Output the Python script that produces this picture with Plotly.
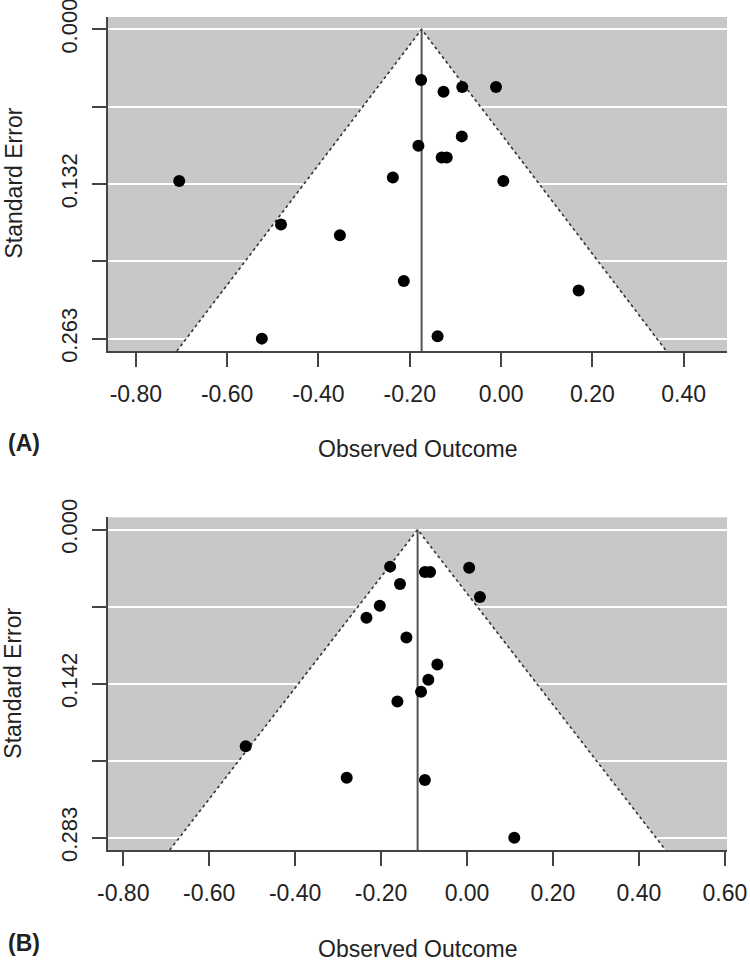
import plotly.graph_objects as go

# ---------------- data ----------------
# Panel A
a_effect = [-0.705, -0.482, -0.353, -0.524, -0.175, -0.126, -0.085, -0.011,
            -0.086, -0.181, -0.130, -0.119, -0.237, 0.005, -0.213, 0.170, -0.139]
a_se = [0.129, 0.166, 0.175, 0.263, 0.043, 0.053, 0.049, 0.049,
        0.091, 0.099, 0.109, 0.109, 0.126, 0.129, 0.214, 0.222, 0.261]
a_estimate = -0.174
a_se_max = 0.263
a_xticks = [-0.8, -0.6, -0.4, -0.2, 0.0, 0.2, 0.4]
a_xticklabels = ["-0.80", "-0.60", "-0.40", "-0.20", "0.00", "0.20", "0.40"]
a_yticklabels = ["0.000", "", "0.132", "", "0.263"]
a_xrange = [-0.861, 0.495]

# Panel B
b_effect = [-0.179, -0.098, -0.086, 0.005, -0.156, 0.030, -0.203, -0.234,
            -0.141, -0.069, -0.090, -0.107, -0.162, -0.515, -0.280, -0.098, 0.110]
b_se = [0.034, 0.039, 0.039, 0.035, 0.050, 0.062, 0.070, 0.081,
        0.099, 0.124, 0.138, 0.149, 0.158, 0.199, 0.228, 0.230, 0.283]
b_estimate = -0.115
b_se_max = 0.283
b_xticks = [-0.8, -0.6, -0.4, -0.2, 0.0, 0.2, 0.4, 0.6]
b_xticklabels = ["-0.80", "-0.60", "-0.40", "-0.20", "0.00", "0.20", "0.40", "0.60"]
b_yticklabels = ["0.000", "", "0.142", "", "0.283"]
b_xrange = [-0.8355, 0.605]

panel_labels = ["(A)", "(B)"]
x_title = "Observed Outcome"
y_title = "Standard Error"

# ---------------- styling ----------------
W, H = 750, 961
FONT = "Liberation Sans, Arial, sans-serif"
GRAY_BG = "#c8c8c8"
AXIS_COL = "#444444"
TXT_COL = "#222222"
FS = 23

fig = go.Figure()

panels = [
    dict(effect=a_effect, se=a_se, est=a_estimate, semax=a_se_max,
         xt=a_xticks, xtl=a_xticklabels, ytl=a_yticklabels, xr=a_xrange,
         xa="x", ya="y", ydom=[1 - 351 / H, 1 - 17 / H]),
    dict(effect=b_effect, se=b_se, est=b_estimate, semax=b_se_max,
         xt=b_xticks, xtl=b_xticklabels, ytl=b_yticklabels, xr=b_xrange,
         xa="x2", ya="y2", ydom=[1 - 850 / H, 1 - 517.3 / H]),
]

layout_axes = {}
annotations = []
for i, p in enumerate(panels):
    ybot = p["semax"] * 1.04
    ytop = -p["semax"] * 0.04
    lo = p["est"] - 1.96 * ybot
    hi = p["est"] + 1.96 * ybot
    # white funnel region
    fig.add_trace(go.Scatter(x=[lo, p["est"], hi, lo], y=[ybot, 0, ybot, ybot],
                             mode="lines", fill="toself", fillcolor="white",
                             line=dict(width=0), hoverinfo="skip",
                             xaxis=p["xa"], yaxis=p["ya"], showlegend=False))
    # dotted funnel boundaries
    fig.add_trace(go.Scatter(x=[lo, p["est"], hi], y=[ybot, 0, ybot],
                             mode="lines", line=dict(color="#333333", width=1.6, dash="dot"),
                             hoverinfo="skip", xaxis=p["xa"], yaxis=p["ya"], showlegend=False))
    # vertical estimate line
    fig.add_trace(go.Scatter(x=[p["est"], p["est"]], y=[0, ybot], mode="lines",
                             line=dict(color="#555555", width=2),
                             hoverinfo="skip", xaxis=p["xa"], yaxis=p["ya"], showlegend=False))
    # study points
    fig.add_trace(go.Scatter(x=p["effect"], y=p["se"], mode="markers",
                             marker=dict(color="black", size=12, line=dict(width=0)),
                             xaxis=p["xa"], yaxis=p["ya"], showlegend=False))

    yvals = [p["semax"] * k / 4 for k in range(5)]
    xkey = "xaxis" if i == 0 else "xaxis2"
    ykey = "yaxis" if i == 0 else "yaxis2"
    layout_axes[xkey] = dict(
        domain=[108 / W, 727 / W], range=p["xr"], anchor=p["ya"], automargin=False,
        tickvals=p["xt"], ticktext=p["xtl"], showgrid=False, zeroline=False,
        showline=True, linecolor=AXIS_COL, linewidth=1.5,
        ticks="outside", ticklen=14, tickwidth=1.5, tickcolor=AXIS_COL,
        ticklabelstandoff=8, ticklabeloverflow="allow",
        tickfont=dict(family=FONT, size=FS, color=TXT_COL), fixedrange=True)
    layout_axes[ykey] = dict(
        domain=p["ydom"], range=[ybot, ytop], anchor=p["xa"], automargin=False,
        tickvals=yvals, ticktext=p["ytl"], tickangle=-90,
        showgrid=True, gridcolor="white", gridwidth=1.5, zeroline=False,
        showline=True, linecolor=AXIS_COL, linewidth=1.5,
        ticks="outside", ticklen=14, tickwidth=1.5, tickcolor=AXIS_COL,
        ticklabelstandoff=6, ticklabeloverflow="allow",
        tickfont=dict(family=FONT, size=22, color=TXT_COL), fixedrange=True)

    base = 350 if i == 0 else 850
    top = 17 if i == 0 else 517.3
    annotations.append(dict(text="<b>%s</b>" % panel_labels[i], x=24 / W, y=1 - (base + 93) / H,
                            xref="paper", yref="paper", showarrow=False,
                            xanchor="center", yanchor="middle",
                            font=dict(family=FONT, size=FS, color=TXT_COL)))
    annotations.append(dict(text=x_title, x=417.5 / W, y=1 - (base + 99) / H,
                            xref="paper", yref="paper", showarrow=False,
                            xanchor="center", yanchor="middle",
                            font=dict(family=FONT, size=FS, color=TXT_COL)))
    annotations.append(dict(text=y_title, x=13 / W, y=1 - ((base + top) / 2) / H,
                            xref="paper", yref="paper", showarrow=False, textangle=-90,
                            xanchor="center", yanchor="middle",
                            font=dict(family=FONT, size=FS, color=TXT_COL)))

fig.update_layout(width=W, height=H, margin=dict(l=0, r=0, t=0, b=0),
                  paper_bgcolor="white", plot_bgcolor=GRAY_BG,
                  annotations=annotations, **layout_axes)

fig.write_html("out.html", config={"displayModeBar": False},
               post_script="document.body.style.margin='0';"
                           "document.body.style.overflow='hidden';")
